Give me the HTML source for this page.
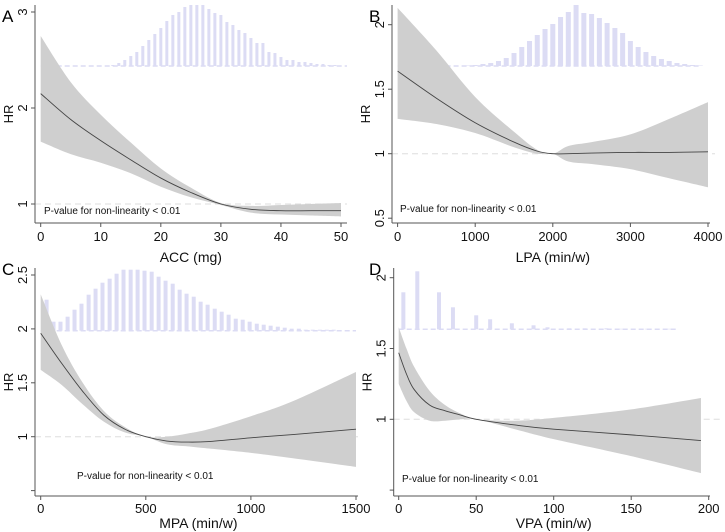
<!DOCTYPE html>
<html><head><meta charset="utf-8"><style>
html,body{margin:0;padding:0;background:#fff;}
svg{display:block;font-family:"Liberation Sans",sans-serif;}
</style></head><body>
<svg id="fig" width="725" height="532" viewBox="0 0 725 532"></svg>
<script>
// ---- Data ----
// Panel A (ACC)
const accBins=[1,12,13,14,15,16,17,18,19,20,21,22,23,24,25,26,27,28,29,30,31,32,33,34,35,36,37,38,39,40,41,42,43,44,45,46,47,48,49];
const accCounts=[3,1,3,6,10,14,20,26,32,38,45,51,54,59,61,61,61,57,53,51,44,41,36,33,28,23,23,14,13,9,6,6,4,4,3,2,2,1,1];
const accX=[0,5,10,15,20,25,30,35,40,45,50];
const accHR=[2.15,1.88,1.66,1.46,1.27,1.12,1.0,0.945,0.93,0.93,0.93];
const accUp=[2.75,2.27,1.93,1.64,1.37,1.17,1.01,0.98,0.99,1.0,1.01];
const accLo=[1.65,1.52,1.43,1.32,1.18,1.07,0.99,0.91,0.89,0.88,0.87];
const accXTicks=[0,10,20,30,40,50];
const accYTicks=[1,2,3];
// Panel B (LPA)
const lpaBins=[50,900,1000,1100,1200,1300,1400,1500,1600,1700,1800,1900,2000,2100,2200,2300,2400,2500,2600,2700,2800,2900,3000,3100,3200,3300,3400,3500,3600,3700,3800,3900];
const lpaCounts=[10,0.5,1,2,3,5,8,13,19,25,31,37,42,49,54,61,53,52,48,43,38,33,25,19,14,10,7,5,3,2,1,0.5];
const lpaX=[0,500,1000,1500,1800,2000,2200,2500,3000,3500,4000];
const lpaHR=[1.64,1.43,1.24,1.09,1.02,1.0,1.0,1.005,1.01,1.01,1.015];
const lpaUp=[2.13,1.80,1.44,1.17,1.03,1.0,1.06,1.09,1.15,1.27,1.40];
const lpaLo=[1.27,1.23,1.16,1.05,1.0,1.0,0.94,0.92,0.88,0.81,0.74];
const lpaXTicks=[0,1000,2000,3000,4000];
const lpaYTicks=[0.5,1,1.5,2];
// Panel C (MPA)
const mpaBins=[28,61,94,128,161,194,228,261,294,328,361,394,428,461,494,528,561,594,628,661,694,728,761,794,828,861,894,928,961,994,1028,1061,1094,1128,1161,1194,1228,1261,1294,1328,1361,1394];
const mpaCounts=[31,9,9,14,21,27,36,42,48,52,57,61,61,61,60,59,54,50,47,41,37,34,29,26,22,19,16,12,11,9,7,6,5,4,3,2,2,1,1,1,1,1];
const mpaX=[0,100,200,300,400,500,600,700,800,1000,1200,1500];
const mpaHR=[1.96,1.68,1.42,1.2,1.07,1.0,0.96,0.95,0.955,0.99,1.02,1.07];
const mpaUp=[2.32,1.85,1.5,1.24,1.09,1.0,1.0,1.03,1.07,1.19,1.33,1.6];
const mpaLo=[1.62,1.48,1.3,1.14,1.04,1.0,0.93,0.91,0.89,0.85,0.80,0.72];
const mpaXTicks=[0,500,1000,1500];
const mpaYTicks=[0.5,1,1.5,2,2.5];
// Panel D (VPA)
const vpaBins=[3,12,26,35,50,59,73,87,96,110,120,134,144,160,175];
const vpaCounts=[37,58,37,22,14,10,6,4,2,1,1,1,0.5,0.5,0.5];
const vpaX=[0,5,10,20,30,40,50,75,100,150,195];
const vpaHR=[1.47,1.32,1.21,1.10,1.06,1.03,1.0,0.96,0.93,0.89,0.85];
const vpaUp=[1.65,1.5,1.37,1.2,1.1,1.04,1.0,0.99,1.01,1.07,1.15];
const vpaLo=[1.25,1.13,1.05,0.99,0.99,1.0,1.0,0.93,0.86,0.74,0.62];
const vpaXTicks=[0,50,100,150,200];
const vpaYTicks=[0.5,1,1.5,2];

const NS="http://www.w3.org/2000/svg";
const svg=document.getElementById('fig');
function mk(tag,attrs,parent){const e=document.createElementNS(NS,tag);for(const k in attrs)e.setAttribute(k,attrs[k]);(parent||svg).appendChild(e);return e;}
// Catmull-Rom smooth path segment through points (no initial M)
function smooth(pts){
  let d='';
  for(let i=0;i<pts.length-1;i++){
    const p0=pts[Math.max(0,i-1)],p1=pts[i],p2=pts[i+1],p3=pts[Math.min(pts.length-1,i+2)];
    const c1=[p1[0]+(p2[0]-p0[0])/6,p1[1]+(p2[1]-p0[1])/6];
    const c2=[p2[0]-(p3[0]-p1[0])/6,p2[1]-(p3[1]-p1[1])/6];
    d+=`C${c1[0]},${c1[1]} ${c2[0]},${c2[1]} ${p2[0]},${p2[1]}`;
  }
  return d;
}

function panel(o){
  const g=mk('g',{});
  
  
  const sx=v=>o.x0+(v-o.d0)*(o.x1-o.x0)/(o.d1-o.d0);
  const sy=v=>o.yA+(v-o.vA)*(o.yB-o.yA)/(o.vB-o.vA);
  const hmax=Math.max(...o.counts);
  o.bins.forEach((b,i)=>{
    const h=o.counts[i]/hmax*o.hh;
    const r=mk('rect',{x:sx(b)-o.bw/2,y:o.hb-h,width:o.bw,height:h,fill:'#dcdcf4'},g);
    
    
  });
  const hbl=mk('line',{x1:sx(o.hd0),x2:sx(o.hd1),y1:o.hb,y2:o.hb,stroke:'#dcdcf4','stroke-width':1.5,'stroke-dasharray':'5,3'},g);
  
  
  const rl=mk('line',{x1:o.ax,x2:o.rx1,y1:sy(1),y2:sy(1),stroke:'#ddd','stroke-width':1,'stroke-dasharray':'6,4'},g);
  
  
  const upP=o.xs.map((v,i)=>[sx(v),sy(o.up[i])]);
  const loP=o.xs.map((v,i)=>[sx(v),sy(o.lo[i])]).reverse();
  const d='M'+upP[0][0]+','+upP[0][1]+smooth(upP)+'L'+loP[0][0]+','+loP[0][1]+smooth(loP)+'Z';
  const band=mk('path',{d:d,fill:'#cfcfcf',stroke:'none'},g);
  
  
  const hrP=o.xs.map((v,i)=>[sx(v),sy(o.hr[i])]);
  const ln=mk('path',{d:'M'+hrP[0][0]+','+hrP[0][1]+smooth(hrP),fill:'none',stroke:'#444','stroke-width':0.9},g);
  
  
  const ya=mk('line',{x1:o.ax,x2:o.ax,y1:o.yt,y2:o.ay,stroke:'#555','stroke-width':1},g);
  
  
  const xa=mk('line',{x1:o.ax,x2:o.axEnd,y1:o.ay,y2:o.ay,stroke:'#555','stroke-width':1},g);
  
  
  o.xt.forEach(t=>{
    mk('line',{x1:sx(t),x2:sx(t),y1:o.ay,y2:o.ay+4,stroke:'#555'},g);
    const tx=mk('text',{x:sx(t),y:o.ay+o.tOff,'font-size':13,'text-anchor':'middle',fill:'#111'},g);
    tx.textContent=t;
    
    
  });
  o.yt2.forEach(t=>{
    const y=sy(t);
    mk('line',{x1:o.ax-4,x2:o.ax,y1:y,y2:y,stroke:'#555'},g);
    if(o.hideLab&&o.hideLab.includes(t))return;
    const tx=mk('text',{x:o.ax-8,y:y,'font-size':13,'text-anchor':'middle',fill:'#111',transform:`rotate(-90 ${o.ax-8} ${y})`},g);
    tx.textContent=t;
    
    
  });
  const xt=mk('text',{x:(o.x0+o.x1)/2,y:o.ay+o.xtOff,'font-size':14,'text-anchor':'middle',fill:'#111'},g);
  xt.textContent=o.xlabel;
  
  
  const yy=(o.yt+o.ay)/2;
  const yt=mk('text',{x:o.ax-22,y:yy,'font-size':13,'text-anchor':'middle',fill:'#111',transform:`rotate(-90 ${o.ax-22} ${yy})`},g);
  yt.textContent='HR';
  
  
  const pv=mk('text',{x:o.px,y:o.py,'font-size':10,fill:'#111'},g);
  pv.textContent='P-value for non-linearity < 0.01';
  
  
  const lt=mk('text',{x:o.lx,y:o.ly,'font-size':17,fill:'#000'},g);
  lt.textContent=o.letter;
  
  
}

panel({name:'panel-a-acc',letter:'A',lx:2,ly:22,x0:40.7,x1:341,d0:0,d1:50,yA:204,vA:1,yB:12,vB:3,
  ax:35,ay:223,axEnd:347,yt:5,rx1:347,bins:accBins,counts:accCounts,hh:61,hb:66,bw:3,hd0:0,hd1:51,tOff:18,xtOff:39,
  xs:accX,hr:accHR,up:accUp,lo:accLo,xt:accXTicks,yt2:accYTicks,xlabel:'ACC (mg)',px:44,py:214});
panel({name:'panel-b-lpa',letter:'B',lx:369,ly:22,x0:397.6,x1:708,d0:0,d1:4000,yA:153.7,vA:1,yB:24.7,vB:2,
  ax:392,ay:223,axEnd:710,yt:5,rx1:715,bins:lpaBins,counts:lpaCounts,hh:61,hb:66,bw:5,hd0:0,hd1:3900,tOff:18,xtOff:39,
  xs:lpaX,hr:lpaHR,up:lpaUp,lo:lpaLo,xt:lpaXTicks,yt2:lpaYTicks,xlabel:'LPA (min/w)',px:400,py:212});
panel({name:'panel-c-mpa',letter:'C',lx:2,ly:275,x0:40.7,x1:356,d0:0,d1:1500,yA:436.7,vA:1,yB:275,vB:2.5,
  ax:35,ay:496,axEnd:358,yt:268,rx1:358,bins:mpaBins,counts:mpaCounts,hh:61,hb:330.7,bw:4,hd0:0,hd1:1500,tOff:17,xtOff:32,
  xs:mpaX,hr:mpaHR,up:mpaUp,lo:mpaLo,xt:mpaXTicks,yt2:mpaYTicks,hideLab:[0.5],xlabel:'MPA (min/w)',px:77,py:479});
panel({name:'panel-d-vpa',letter:'D',lx:369,ly:275,x0:398.7,x1:708.7,d0:0,d1:200,yA:419.3,vA:1,yB:277.7,vB:2,
  ax:393.7,ay:496,axEnd:710,yt:268,rx1:720,bins:vpaBins,counts:vpaCounts,hh:58,hb:329.3,bw:4,hd0:0,hd1:180,tOff:17,xtOff:32,
  xs:vpaX,hr:vpaHR,up:vpaUp,lo:vpaLo,xt:vpaXTicks,yt2:vpaYTicks,hideLab:[0.5],xlabel:'VPA (min/w)',px:402,py:482});
</script>
</body></html>
